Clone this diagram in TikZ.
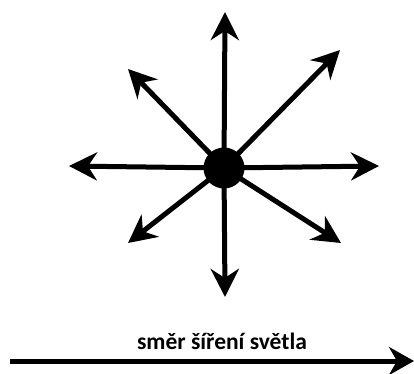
\documentclass[tikz,border=0pt]{standalone}
\usepackage{fontspec}
\setmainfont{Carlito}
\usetikzlibrary{arrows.meta,positioning}

\begin{document}
\begin{tikzpicture}[x=1pt, y=-1pt, >={Stealth[length=28pt,width=28pt,inset=9pt]}, line join=round]
  \useasboundingbox (0,0) rectangle (414,373);
  % rays from the point source
  \foreach \name/\x/\y in {n/225/12, s/225/297, w/69/166, e/379/166, ne/340/50, nw/128/69, sw/128/243, se/341/243}
    \coordinate (\name) at (\x,\y);
  \coordinate (src) at (224,168);
  \foreach \name in {n,s,w,e,ne,nw,sw,se}
    \draw[line width=5pt, ->] (src) -- (\name);
  \node[circle, fill, minimum size=41pt, inner sep=0pt] (dot) at (src) {};
  % direction of propagation
  \coordinate (start) at (10,361);
  \coordinate (stop) at (414,361);
  \draw[line width=5pt, -{Stealth[length=25pt,width=28pt,inset=8pt]}] (start) -- (stop);
  \node[anchor=base, font=\fontsize{23.5}{26}\selectfont\bfseries, inner sep=0pt] (label) at (222,349) {směr šíření světla};
\end{tikzpicture}
\end{document}
